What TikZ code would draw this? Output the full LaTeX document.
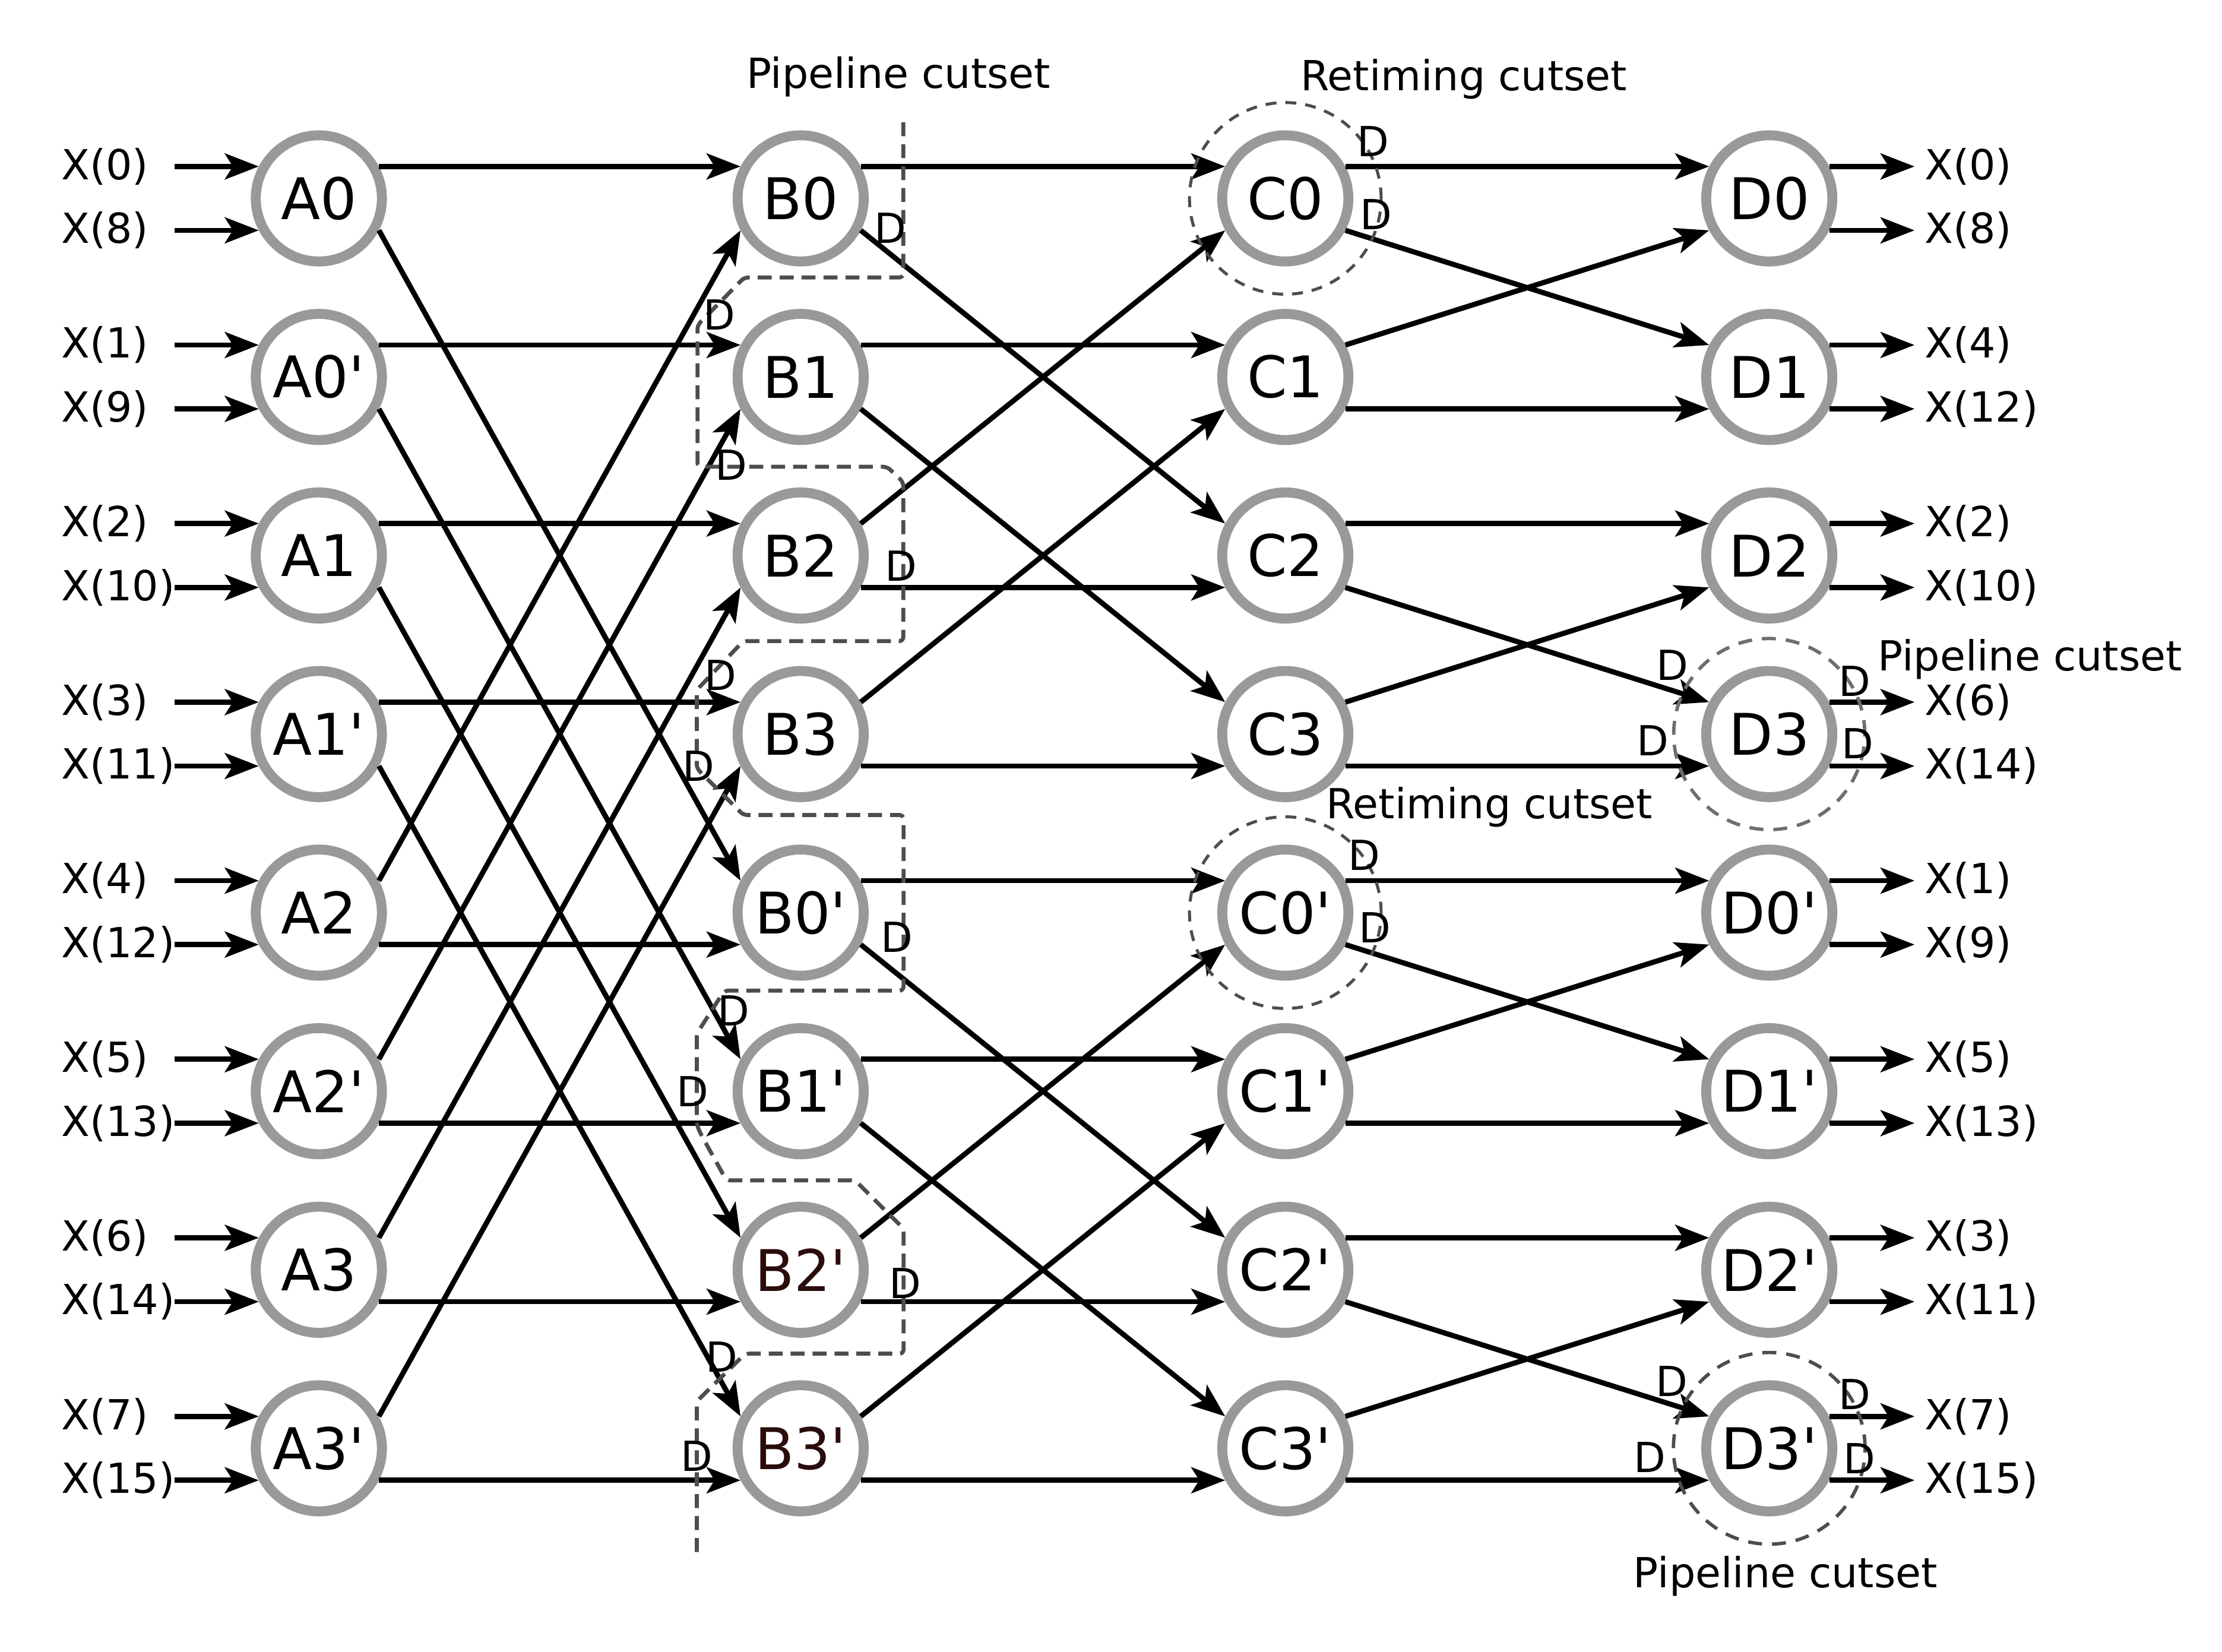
\documentclass[tikz,border=0pt]{standalone}
\usepackage{fontspec}
\setmainfont{DejaVu Sans}[Ligatures=TeXOff]
\usetikzlibrary{arrows.meta}
\definecolor{ring}{HTML}{999999}
\definecolor{cut}{HTML}{4D4D4D}
\definecolor{cutlight}{HTML}{6E6E6E}
\definecolor{darkbrown}{HTML}{2A0C0C}
\begin{document}
\begin{tikzpicture}[x=0.025cm, y=-0.025cm,
  bf/.style={circle, draw=ring, line width=5pt, minimum size=2.225cm, inner sep=0pt,
             font=\fontsize{28.8}{34}\selectfont},
  arr/.style={line width=2.6pt, -{Stealth[length=17pt,width=13pt,inset=4pt]}},
  lbl/.style={font=\fontsize{20.8}{25}\selectfont, inner sep=0pt},
  pipe/.style={draw=cut, line width=2pt, dash pattern=on 7pt off 4pt, rounded corners=2pt},
  retime/.style={draw=cut, line width=1.5pt, dash pattern=on 5.5pt off 4.5pt},
  pipering/.style={draw=cutlight, line width=1.7pt, dash pattern=on 7pt off 5pt},
]
\useasboundingbox (0,0) rectangle (1568,1165.7);

% butterfly nodes, four stages
\foreach \nm/\txt/\yy in {A0/A0/140, A0p/A0'/266, A1/A1/392, A1p/A1'/518,
                          A2/A2/644, A2p/A2'/770, A3/A3/896, A3p/A3'/1022}
  \node[bf] (\nm) at (225,\yy) {\txt};
\foreach \nm/\txt/\yy in {B0/B0/140, B1/B1/266, B2/B2/392, B3/B3/518,
                          B0p/B0'/644, B1p/B1'/770}
  \node[bf] (\nm) at (565,\yy) {\txt};
\node[bf, text=darkbrown] (B2p) at (565,896) {B2'};
\node[bf, text=darkbrown] (B3p) at (565,1022) {B3'};
\foreach \nm/\txt/\yy in {C0/C0/140, C1/C1/266, C2/C2/392, C3/C3/518,
                          C0p/C0'/644, C1p/C1'/770, C2p/C2'/896, C3p/C3'/1022}
  \node[bf] (\nm) at (907,\yy) {\txt};
\foreach \nm/\txt/\yy in {D0/D0/140, D1/D1/266, D2/D2/392, D3/D3/518,
                          D0p/D0'/644, D1p/D1'/770, D2p/D2'/896, D3p/D3'/1022}
  \node[bf] (\nm) at (1248.5,\yy) {\txt};

% inputs
\coordinate (inx) at (123,0);
\coordinate (inlbl) at (43,0);
\foreach \nm/\u/\v in {A0/0/8, A0p/1/9, A1/2/10, A1p/3/11, A2/4/12, A2p/5/13, A3/6/14, A3p/7/15} {
  \draw[arr] (\nm.152 -| inx) -- (\nm.152);
  \draw[arr] (\nm.208 -| inx) -- (\nm.208);
  \node[lbl, anchor=west] (x\u) at (\nm.152 -| inlbl) {X(\u)};
  \node[lbl, anchor=west] (x\v) at (\nm.208 -| inlbl) {X(\v)};
}

% outputs
\coordinate (outx) at (1351,0);
\coordinate (outlbl) at (1358,0);
\foreach \nm/\u/\v in {D0/0/8, D1/4/12, D2/2/10, D3/6/14, D0p/1/9, D1p/5/13, D2p/3/11, D3p/7/15} {
  \draw[arr] (\nm.28) -- (\nm.28 -| outx);
  \draw[arr] (\nm.332) -- (\nm.332 -| outx);
  \node[lbl, anchor=west] (y\u) at (\nm.28 -| outlbl) {X(\u)};
  \node[lbl, anchor=west] (y\v) at (\nm.332 -| outlbl) {X(\v)};
}

% stage A -> B
\foreach \a/\b/\c in {A0/B0/B0p, A0p/B1/B1p, A1/B2/B2p, A1p/B3/B3p} {
  \draw[arr] (\a.28) -- (\b.152);
  \draw[arr] (\a.332) -- (\c.152);
}
\foreach \a/\b/\c in {A2/B0/B0p, A2p/B1/B1p, A3/B2/B2p, A3p/B3/B3p} {
  \draw[arr] (\a.28) -- (\b.208);
  \draw[arr] (\a.332) -- (\c.208);
}

% stage B -> C
\foreach \b/\c/\d/\ang in {B0/C0/C2/152, B1/C1/C3/152, B2/C0/C2/208, B3/C1/C3/208,
                          B0p/C0p/C2p/152, B1p/C1p/C3p/152, B2p/C0p/C2p/208, B3p/C1p/C3p/208} {
  \draw[arr] (\b.28) -- (\c.\ang);
  \draw[arr] (\b.332) -- (\d.\ang);
}

% stage C -> D
\foreach \c/\d/\e/\ang in {C0/D0/D1/152, C1/D0/D1/208, C2/D2/D3/152, C3/D2/D3/208,
                          C0p/D0p/D1p/152, C1p/D0p/D1p/208, C2p/D2p/D3p/152, C3p/D2p/D3p/208} {
  \draw[arr] (\c.28) -- (\d.\ang);
  \draw[arr] (\c.332) -- (\e.\ang);
}

% pipeline cutset through the second stage
\draw[pipe] (637.4,86.3) -- (637.4,195.8) -- (525.2,195.8) -- (492.2,229.5)
  -- (492.2,329.4) -- (626,329.4) -- (637.4,340.2) -- (637.4,452.4)
  -- (524.5,452.4) -- (491.7,486.9) -- (491.7,542.2) -- (524.5,575.1)
  -- (637.6,575.1) -- (637.6,699) -- (511.2,699) -- (491.7,729.4)
  -- (491.7,793.6) -- (494.4,800) -- (512.6,832.9) -- (603.4,832.9)
  -- (637.6,867) -- (637.6,955.2) -- (525.9,955.2) -- (491.7,988.9)
  -- (491.7,1100.4);

% retiming and pipeline cutsets around single nodes
\draw[retime] (C0) circle[radius=1.69cm];
\draw[retime] (C0p) circle[radius=1.69cm];
\draw[pipering] (D3) circle[radius=1.685cm];
\draw[pipering, draw=cut] (D3p) circle[radius=1.69cm];

% delay elements
\foreach \i/\xx/\yy in {1/628.4/161, 2/507.8/222.3, 3/515.8/328.1, 4/635.8/399.5,
    5/508.4/476.4, 6/493.1/540.6, 7/632.7/661.3, 8/517.5/713.4, 9/488.9/770.3,
    10/638.6/905.5, 11/509.1/957.6, 12/491.7/1027.4,
    13/968.9/99.6, 14/971/151.4, 15/962.6/603.4, 16/970.1/654.4,
    17/1180.3/469.3, 18/1166.2/522.4, 19/1308.8/480.5, 20/1310.8/524.5,
    21/1179.5/974.7, 22/1164.2/1028.4, 23/1308.6/984, 24/1312.3/1029.2}
  \node[lbl] (dl\i) at (\xx,\yy) {D};

% cutset captions
\node[lbl, anchor=base] (cap1) at (634,62.4) {Pipeline cutset};
\node[lbl, anchor=base] (cap2) at (1033,64) {Retiming cutset};
\node[lbl, anchor=base] (cap3) at (1051,577.6) {Retiming cutset};
\node[lbl, anchor=base west] (cap4) at (1325,473.5) {Pipeline cutset};
\node[lbl, anchor=base] (cap5) at (1260,1120.2) {Pipeline cutset};
\end{tikzpicture}
\end{document}
